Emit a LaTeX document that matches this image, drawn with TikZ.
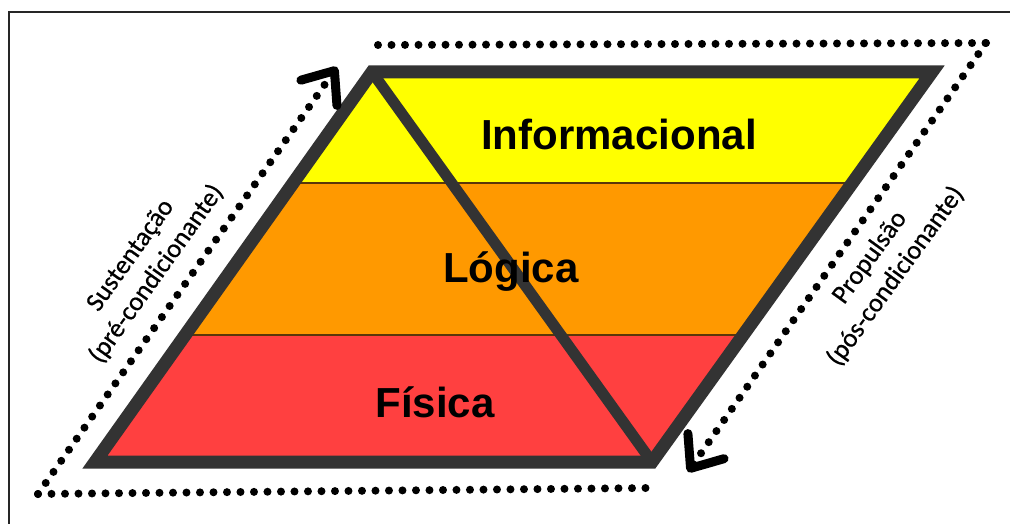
\documentclass[tikz,border=0pt]{standalone}
\usepackage{fontspec}
\setmainfont{Liberation Sans}
\newfontfamily\sidefont[FakeBold=0.6]{Carlito}
\usetikzlibrary{arrows.meta}
\definecolor{bandyellow}{RGB}{255,255,0}
\definecolor{bandorange}{RGB}{255,153,0}
\definecolor{bandred}{RGB}{255,64,64}
\definecolor{rim}{RGB}{51,51,51}
\definecolor{sep}{RGB}{90,55,10}
\tikzset{
  rimline/.style={draw=rim, line width=13pt, line join=miter},
  diagline/.style={draw=rim, line width=11pt},
  sepline/.style={draw=sep, line width=1.8pt},
  dotline/.style={line width=8pt, line cap=round, dash pattern=on 0pt off 13.5pt},
  dotarrow/.style={dotline, -{Straight Barb[length=27pt,width=44pt,line width=9pt,round]}},
  layerlabel/.style={font=\bfseries\fontsize{42}{48}\selectfont, anchor=base, inner sep=0pt},
  sidelabel/.style={font=\sidefont\fontsize{26.5}{32}\selectfont, align=center, text=black, inner sep=0pt},
  frameline/.style={draw=black!85, line width=2pt}
}
\begin{document}
\begin{tikzpicture}[x=1pt,y=-1pt]
\useasboundingbox (0,0) rectangle (1010,524);
\fill[white] (0,0) rectangle (1010,524);
% frame
\coordinate (fBL) at (9,524);
\coordinate (fTL) at (9,12);
\coordinate (fTR) at (1010,12);
\draw[frameline] (fBL) -- (fTL) -- (fTR);
% parallelogram corners
\coordinate (BL) at (95,462);
\coordinate (TL) at (372,72);
\coordinate (TR) at (932,72);
\coordinate (BR) at (652,462);
\begin{scope}
  \clip (BL) -- (TL) -- (TR) -- (BR) -- cycle;
  \fill[bandyellow] (0,60) rectangle (1010,183);
  \fill[bandorange] (0,183) rectangle (1010,335);
  \fill[bandred] (0,335) rectangle (1010,470);
  \draw[sepline] (0,183) -- (1010,183);
  \draw[sepline] (0,335) -- (1010,335);
\end{scope}
\draw[diagline] (TL) -- (BR);
\draw[rimline] (BL) -- (TL) -- (TR) -- (BR) -- cycle;
% layer labels
\node[layerlabel] (info) at (619,150) {Informacional};
\node[layerlabel] (logica) at (511,282) {Lógica};
\node[layerlabel] (fisica) at (435,417) {Física};
% dotted connectors
\coordinate (dBL) at (38,494);
\coordinate (dBR) at (648,488);
\coordinate (dTL) at (378,45);
\coordinate (dTR) at (986,43);
\coordinate (tipL) at (337,67);
\coordinate (tipR) at (688,472);
\draw[dotline] (dBL) -- (dBR);
\draw[dotline] (dTL) -- (dTR);
\draw[dotarrow] (dBL) -- (tipL);
\draw[dotarrow] (dTR) -- (tipR);
% side labels
\node[sidelabel, rotate=54.5] (sust) at (144,265) {Sustentação\\(pré-condicionante)};
\node[sidelabel, rotate=54] (prop) at (883,267) {Propulsão\\(pós-condicionante)};
\end{tikzpicture}
\end{document}
